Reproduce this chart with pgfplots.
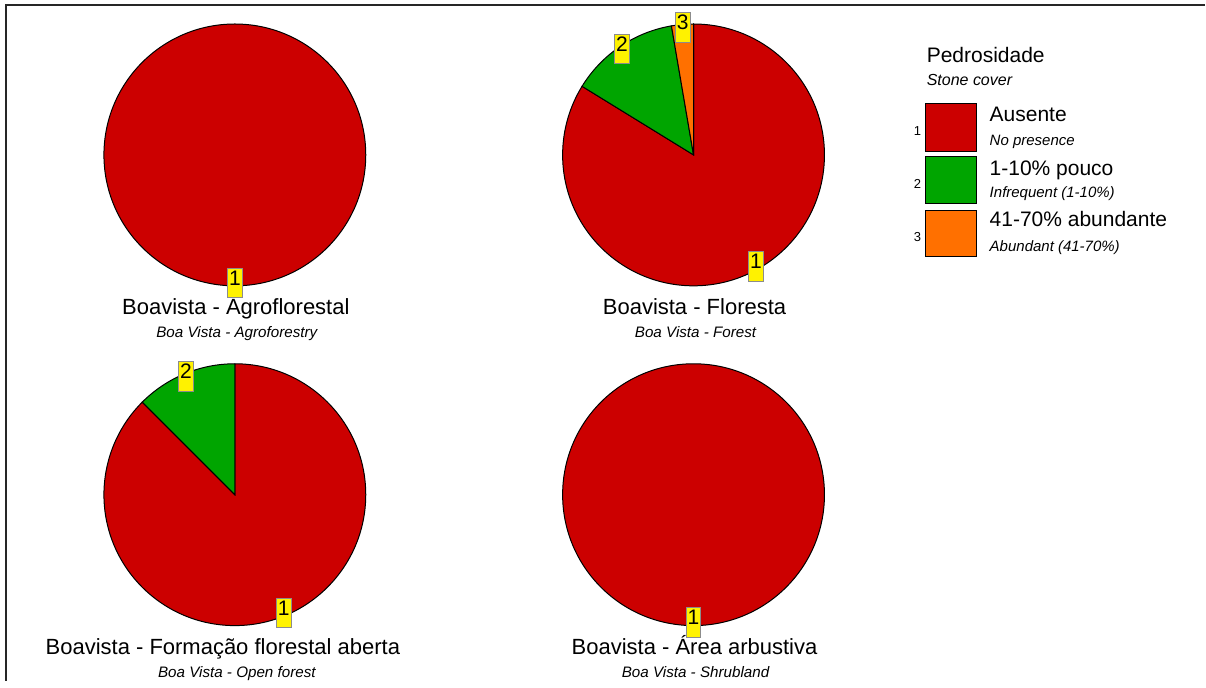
\documentclass[border=0pt]{standalone}
\usepackage{pgfplots}
\pgfplotsset{compat=1.18}
\usepackage{fontspec}
\setmainfont{Liberation Sans}
\definecolor{cred}{RGB}{204,0,0}
\definecolor{cgreen}{RGB}{0,165,0}
\definecolor{corange}{RGB}{255,112,0}
\newcommand{\R}{65.5pt}
% slice: cx, cy, start pct, end pct, colour
\newcommand{\slice}[5]{\filldraw[fill=#5,draw=black,line width=0.5pt] (axis cs:#1,#2) -- ++({90-3.6*#3}:\R) arc[start angle={90-3.6*#3}, end angle={90-3.6*#4}, radius=\R] -- cycle;}
\newcommand{\plab}[5]{\path (axis cs:#1,#2) ++({90-1.8*(#3+#4)}:64pt) node[lab]{#5};}
\newcommand{\tf}{\fontsize{10.5}{12}\selectfont}
\newcommand{\ttf}{\fontsize{11}{12}\selectfont}
\newcommand{\subf}{\fontsize{7.6}{8}\selectfont\itshape}
\newcommand{\legf}{\fontsize{7.5}{8}\selectfont\itshape}
\tikzset{lab/.style={fill=yellow,draw=black!45,line width=0.5pt,inner xsep=0.8pt,inner ysep=1pt,text height=7.6pt,text depth=5.2pt,font=\tf}}
\begin{document}
\begin{tikzpicture}
\begin{axis}[x=0.5pt,y=0.5pt,xmin=0,xmax=1206,ymin=0,ymax=681,y dir=reverse,hide axis,clip=false,scale only axis]
\addplot[draw=none,fill=white] coordinates {(0,0)(1206,0)(1206,681)(0,681)} -- cycle;
\addplot[black!85,line width=0.8pt] coordinates {(6,681)(6,5)(1206,5)};
% Pie 1: Agroflorestal (100% Ausente)
\filldraw[fill=cred,draw=black,line width=0.5pt] (axis cs:235,155) circle[radius=\R];
\plab{235}{155}{0}{100}{1}
\node[anchor=base,font=\ttf] at (axis cs:236,315) {Boavista - Agroflorestal};
\node[anchor=base,font=\subf] at (axis cs:237,338) {Boa Vista - Agroforestry};
% Pie 2: Floresta (31, 5, 1 of 37)
\slice{694}{155}{0}{83.78}{cred}
\slice{694}{155}{83.78}{97.30}{cgreen}
\slice{694}{155}{97.30}{100}{corange}
\plab{694}{155}{0}{83.78}{1}
\plab{694}{155}{83.78}{97.30}{2}
\plab{694}{155}{97.30}{100}{3}
\node[anchor=base,font=\ttf] at (axis cs:695,315) {Boavista - Floresta};
\node[anchor=base,font=\subf] at (axis cs:696,338) {Boa Vista - Forest};
% Pie 3: Formação florestal aberta (87.5, 12.5)
\slice{235}{495}{0}{87.5}{cred}
\slice{235}{495}{87.5}{100}{cgreen}
\plab{235}{495}{0}{87.5}{1}
\plab{235}{495}{87.5}{100}{2}
\node[anchor=base,font=\ttf] at (axis cs:223,655) {Boavista - Formação florestal aberta};
\node[anchor=base,font=\subf] at (axis cs:237,678) {Boa Vista - Open forest};
% Pie 4: Área arbustiva (100% Ausente)
\filldraw[fill=cred,draw=black,line width=0.5pt] (axis cs:694,495) circle[radius=\R];
\plab{694}{495}{0}{100}{1}
\node[anchor=base,font=\ttf] at (axis cs:695,655) {Boavista - Área arbustiva};
\node[anchor=base,font=\subf] at (axis cs:696,678) {Boa Vista - Shrubland};
% Legend
\node[anchor=base west,font=\tf,inner sep=0pt] at (axis cs:927,63) {Pedrosidade};
\node[anchor=base west,font=\fontsize{8}{9}\selectfont\itshape,inner sep=0pt] at (axis cs:927,86) {Stone cover};
\addplot[fill=cred,draw=black,line width=0.5pt] coordinates {(926,104)(977,104)(977,152)(926,152)} -- cycle;
\addplot[fill=cgreen,draw=black,line width=0.5pt] coordinates {(926,157)(977,157)(977,204)(926,204)} -- cycle;
\addplot[fill=corange,draw=black,line width=0.5pt] coordinates {(926,211)(977,211)(977,257)(926,257)} -- cycle;
\node[font=\fontsize{6.5}{7}\selectfont] at (axis cs:918,131) {1};
\node[font=\fontsize{6.5}{7}\selectfont] at (axis cs:918,184) {2};
\node[font=\fontsize{6.5}{7}\selectfont] at (axis cs:918,237) {3};
\node[anchor=base west,font=\tf,inner sep=0pt] at (axis cs:990,122) {Ausente};
\node[anchor=base west,font=\legf,inner sep=0pt] at (axis cs:990,146) {No presence};
\node[anchor=base west,font=\tf,inner sep=0pt] at (axis cs:990,176) {1-10\% pouco};
\node[anchor=base west,font=\legf,inner sep=0pt] at (axis cs:990,198) {Infrequent (1-10\%)};
\node[anchor=base west,font=\tf,inner sep=0pt] at (axis cs:990,227) {41-70\% abundante};
\node[anchor=base west,font=\legf,inner sep=0pt] at (axis cs:990,252) {Abundant (41-70\%)};
\end{axis}
\end{tikzpicture}
\end{document}
